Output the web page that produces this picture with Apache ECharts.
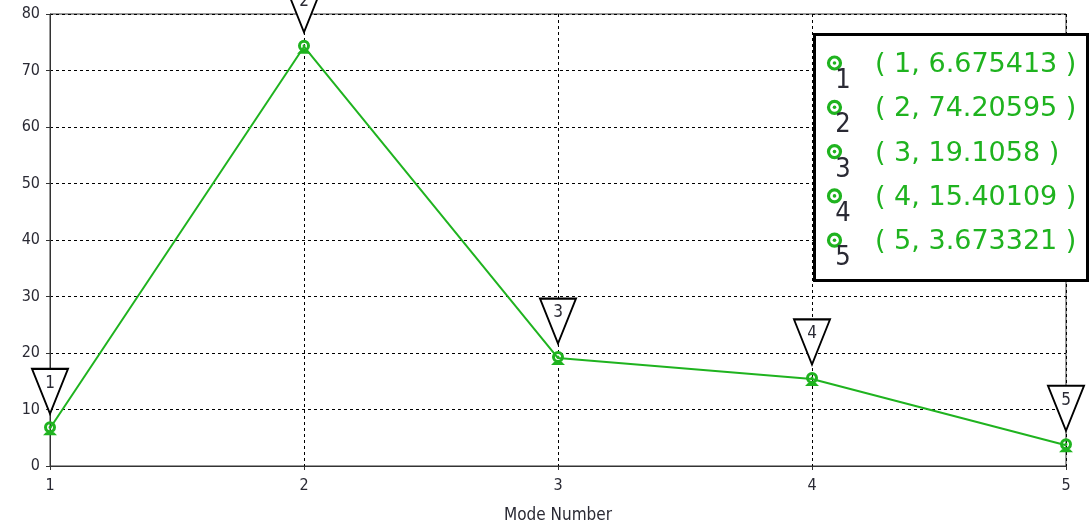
<!DOCTYPE html>
<html>
<head>
<meta charset="utf-8">
<style>
  html, body { margin: 0; padding: 0; background: #ffffff; }
  #chart { width: 1091px; height: 529px; }
</style>
<script src="https://cdn.jsdelivr.net/npm/echarts@6/dist/echarts.min.js"></script>
</head>
<body>
<div id="chart"></div>
<script>
// Mode number and the value found for each mode
const modes = [1, 2, 3, 4, 5];
const values = [6.675413, 74.20595, 19.1058, 15.40109, 3.673321];
const xTicks = [1, 2, 3, 4, 5];
const yTicks = [0, 10, 20, 30, 40, 50, 60, 70, 80];
const xAxisTitle = 'Mode Number';

const FONT = '"DejaVu Sans Condensed", "DejaVu Sans", sans-serif';
const WIDE_FONT = '"DejaVu Sans", sans-serif';
const GREEN = '#1fb31f';
const LABEL = '#2a2a34';

// Ring with a centre dot sitting on a small flat base
const pointSymbol = 'path://' +
  'M4,9 A6,6 0 1,1 16,9 A6,6 0 1,1 4,9 Z ' +
  'M7,9 A3,3 0 1,0 13,9 A3,3 0 1,0 7,9 Z ' +
  'M8.5,9 A1.5,1.5 0 1,1 11.5,9 A1.5,1.5 0 1,1 8.5,9 Z ' +
  'M6,14 L14,14 L17,17 L3,17 Z';

const points = modes.map((m, i) => [m, values[i]]);

const chart = echarts.init(document.getElementById('chart'), null, { renderer: 'canvas' });

// Legend box listing every (mode, value) pair
const rowTop = 63, rowStep = 44.3;
const legendGraphics = [{
  type: 'rect',
  shape: { x: 814.5, y: 34.5, width: 273, height: 246 },
  style: { fill: '#ffffff', stroke: '#000000', lineWidth: 3 },
  z: 100
}];
modes.forEach((m, i) => {
  const cy = rowTop + i * rowStep;
  legendGraphics.push({
    type: 'circle', shape: { cx: 834.5, cy: cy, r: 6 },
    style: { fill: 'none', stroke: GREEN, lineWidth: 3.2 }, z: 101
  });
  legendGraphics.push({
    type: 'circle', shape: { cx: 834.5, cy: cy, r: 1.8 },
    style: { fill: GREEN }, z: 101
  });
  legendGraphics.push({
    type: 'text', x: 843, y: cy + 18,
    style: { text: String(m), font: '27px ' + FONT, fill: LABEL, align: 'center', verticalAlign: 'middle' },
    z: 102
  });
  legendGraphics.push({
    type: 'text', x: 875, y: cy + 2,
    style: { text: '( ' + m + ', ' + values[i] + ' )', font: '27px ' + WIDE_FONT, fill: GREEN, align: 'left', verticalAlign: 'middle' },
    z: 102
  });
});

chart.setOption({
  animation: false,
  backgroundColor: '#ffffff',
  grid: {
    left: 50, right: 25, top: 14, bottom: 63,
    show: true, borderColor: '#333333', borderWidth: 1, backgroundColor: 'transparent'
  },
  xAxis: {
    type: 'value',
    min: xTicks[0], max: xTicks[xTicks.length - 1], interval: 1,
    name: xAxisTitle, nameLocation: 'middle', nameGap: 41,
    nameTextStyle: { fontFamily: FONT, fontSize: 17, color: LABEL },
    axisLine: { show: true, lineStyle: { color: '#333333', width: 1 } },
    axisTick: { show: true, length: 4, lineStyle: { color: '#333333' } },
    axisLabel: { fontFamily: FONT, fontSize: 16, color: LABEL, margin: 12 },
    splitLine: { show: true, lineStyle: { color: '#000000', type: [3, 3], width: 1 } }
  },
  yAxis: {
    type: 'value',
    min: yTicks[0], max: yTicks[yTicks.length - 1], interval: 10,
    axisLine: { show: true, lineStyle: { color: '#333333', width: 1 } },
    axisTick: { show: true, length: 4, lineStyle: { color: '#333333' } },
    axisLabel: { fontFamily: FONT, fontSize: 16, color: LABEL, margin: 10 },
    splitLine: { show: true, lineStyle: { color: '#000000', type: [3, 3], width: 1 } }
  },
  series: [
    {
      type: 'line',
      data: points,
      symbol: pointSymbol,
      symbolSize: 14,
      showAllSymbol: true,
      lineStyle: { color: GREEN, width: 2 },
      itemStyle: { color: GREEN },
      z: 3
    },
    {
      // Numbered pointer above each mode
      type: 'scatter',
      data: points,
      clip: false,
      symbol: 'path://M0,0 L36,0 L18,45 Z',
      symbolSize: [36, 45],
      symbolOffset: [0, -37],
      itemStyle: { color: '#ffffff', borderColor: '#000000', borderWidth: 2, opacity: 1 },
      label: {
        show: true, position: 'inside', offset: [0, -8],
        formatter: (p) => String(p.dataIndex + 1),
        fontFamily: FONT, fontSize: 17, color: LABEL
      },
      emphasis: { disabled: true },
      z: 4
    }
  ],
  graphic: legendGraphics
});
</script>
</body>
</html>
